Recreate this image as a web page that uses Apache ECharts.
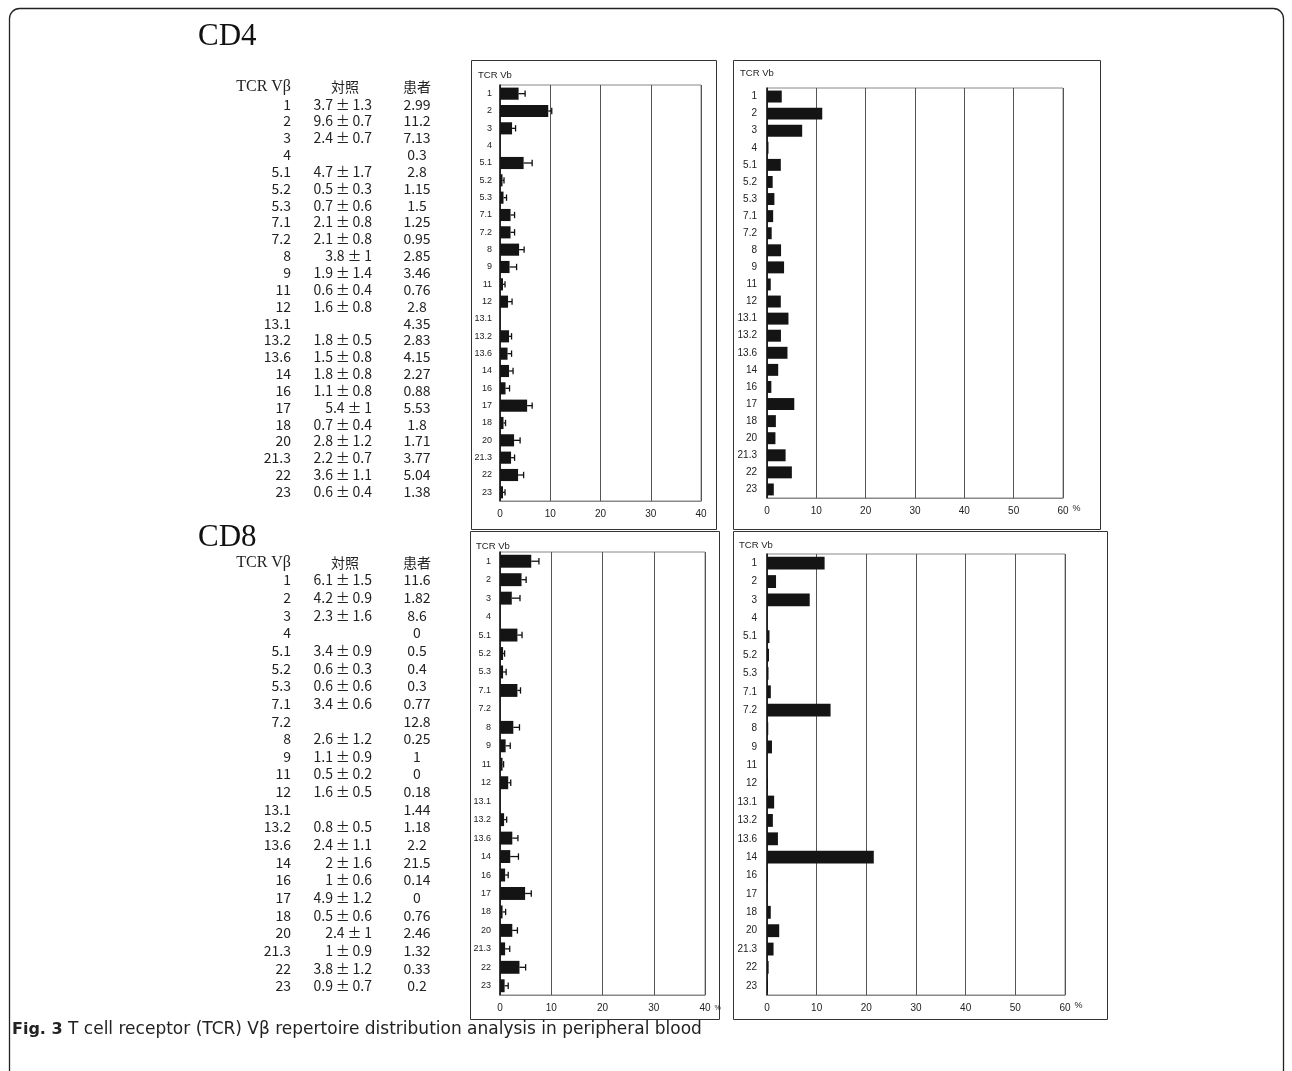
<!DOCTYPE html>
<html><head><meta charset="utf-8">
<script src="https://cdn.jsdelivr.net/npm/echarts@6/dist/echarts.min.js"></script>
<style>html,body{margin:0;padding:0;background:#fff}#c{width:1292px;height:1071px}</style>
</head><body><div id="c"></div>
<script>
// ---- data ----
const categories = ['1','2','3','4','5.1','5.2','5.3','7.1','7.2','8','9','11','12','13.1','13.2','13.6','14','16','17','18','20','21.3','22','23'];
const cd4ControlMean = [3.7,9.6,2.4,null,4.7,0.5,0.7,2.1,2.1,3.8,1.9,0.6,1.6,null,1.8,1.5,1.8,1.1,5.4,0.7,2.8,2.2,3.6,0.6];
const cd4ControlSD   = [1.3,0.7,0.7,null,1.7,0.3,0.6,0.8,0.8,1,1.4,0.4,0.8,null,0.5,0.8,0.8,0.8,1,0.4,1.2,0.7,1.1,0.4];
const cd4Patient     = [2.99,11.2,7.13,0.3,2.8,1.15,1.5,1.25,0.95,2.85,3.46,0.76,2.8,4.35,2.83,4.15,2.27,0.88,5.53,1.8,1.71,3.77,5.04,1.38];
const cd8ControlMean = [6.1,4.2,2.3,null,3.4,0.6,0.6,3.4,null,2.6,1.1,0.5,1.6,null,0.8,2.4,2,1,4.9,0.5,2.4,1,3.8,0.9];
const cd8ControlSD   = [1.5,0.9,1.6,null,0.9,0.3,0.6,0.6,null,1.2,0.9,0.2,0.5,null,0.5,1.1,1.6,0.6,1.2,0.6,1,0.9,1.2,0.7];
const cd8Patient     = [11.6,1.82,8.6,0,0.5,0.4,0.3,0.77,12.8,0.25,1,0,0.18,1.44,1.18,2.2,21.5,0.14,0,0.76,2.46,1.32,0.33,0.2];
const controlTicksMax = 40;
const patientTicksMax = 60;
const headerLabels = ['TCR V\u03b2','対照','患者'];
const panelTitles = ['CD4','CD8'];
const chartTitle = 'TCR Vb';
const captionBold = 'Fig. 3';
const captionText = ' T cell receptor (TCR) V\u03b2 repertoire distribution analysis in peripheral blood';

// ---- layout ----
const grids = [
  {left:500, top:85,  width:201, height:416},
  {left:767, top:88,  width:296, height:410},
  {left:500, top:552, width:205, height:443},
  {left:767, top:554, width:298, height:441}
];
const boxes = [
  {x:471, y:60,  w:245, h:469},
  {x:733, y:60,  w:367, h:469},
  {x:470, y:531, w:249, h:488},
  {x:733, y:531, w:374, h:488}
];
const titlePos = [[478,75],[740,73],[476,546],[739,545]];
const labelFont = 'Liberation Sans';

const chart = echarts.init(document.getElementById('c'));

function fmtCtrl(m, s){ return m==null ? '' : (m + '\u2009±\u2009' + s); }
function fmtNum(v){ return v==null ? '' : String(v); }

const graphic = [];
graphic.push({type:'rect', shape:{x:9.5,y:8.5,width:1274,height:1100,r:10}, style:{fill:'none',stroke:'#222',lineWidth:1.3}, silent:true});
boxes.forEach(b=>graphic.push({type:'rect', shape:{x:b.x+0.5,y:b.y+0.5,width:b.w,height:b.h}, style:{fill:'none',stroke:'#333',lineWidth:1}, silent:true}));
titlePos.forEach(p=>graphic.push({type:'text', x:p[0], y:p[1], style:{text:chartTitle, font:'9.5px '+labelFont, fill:'#222', textVerticalAlign:'middle'}}));

const tables = [
  {title:panelTitles[0], titleY:37, headerY:87, row0:104.3, step:16.84, mean:cd4ControlMean, sd:cd4ControlSD, pat:cd4Patient},
  {title:panelTitles[1], titleY:538, headerY:563, row0:580, step:17.65, mean:cd8ControlMean, sd:cd8ControlSD, pat:cd8Patient}
];
const colRight = 291, ctrlRight = 372, patCenter = 417, ctrlCenter = 345;
const tFont = '14px "Noto Sans CJK JP"';
tables.forEach(t=>{
  graphic.push({type:'text', x:198, y:t.titleY, style:{text:t.title, font:'31px "Liberation Serif"', fill:'#111', textVerticalAlign:'middle'}});
  graphic.push({type:'text', x:colRight, y:t.headerY, style:{text:headerLabels[0], font:'16px "Liberation Serif"', fill:'#222', textAlign:'right', textVerticalAlign:'middle'}});
  graphic.push({type:'text', x:ctrlCenter, y:t.headerY, style:{text:headerLabels[1], font:tFont, fill:'#222', textAlign:'center', textVerticalAlign:'middle'}});
  graphic.push({type:'text', x:patCenter, y:t.headerY, style:{text:headerLabels[2], font:tFont, fill:'#222', textAlign:'center', textVerticalAlign:'middle'}});
  categories.forEach((c,i)=>{
    const y = t.row0 + i*t.step;
    graphic.push({type:'text', x:colRight, y:y, style:{text:c, font:tFont, fill:'#222', textAlign:'right', textVerticalAlign:'middle'}});
    graphic.push({type:'text', x:ctrlRight, y:y, style:{text:fmtCtrl(t.mean[i],t.sd[i]), font:tFont, fill:'#222', textAlign:'right', textVerticalAlign:'middle'}});
    graphic.push({type:'text', x:patCenter, y:y, style:{text:fmtNum(t.pat[i]), font:tFont, fill:'#222', textAlign:'center', textVerticalAlign:'middle'}});
  });
});
graphic.push({type:'text', x:12, y:1030, style:{
  text:'{b|'+captionBold+'}{n|'+captionText+'}',
  rich:{b:{fontSize:16, fontWeight:'bold', fontFamily:'DejaVu Sans', fill:'#222'},
        n:{fontSize:17, fontWeight:'normal', fontFamily:'DejaVu Sans', fill:'#222'}},
  textVerticalAlign:'middle'}});

function xAx(gi, max, nameTxt, fs){
  return {gridIndex:gi, type:'value', min:0, max:max, interval:10,
    axisLine:{show:true, lineStyle:{color:'#888', width:1}}, axisTick:{show:false},
    axisLabel:{fontSize:10, color:'#222', fontFamily:labelFont, margin:8},
    splitLine:{show:true, lineStyle:{color:'#555', width:1}},
    name:nameTxt, nameLocation:'end', nameGap: nameTxt ? 4 : 0,
    nameTextStyle:{fontSize:fs, color:'#222', fontFamily:labelFont, verticalAlign:'top', padding:[fs<9?10:6,0,0,0]}};
}
function yAx(gi, fs, margin){
  return {gridIndex:gi, type:'category', data:categories, inverse:true,
    axisLine:{show:true, lineStyle:{color:'#111', width:1.5}}, axisTick:{show:false},
    axisLabel:{fontSize:fs, color:'#222', fontFamily:labelFont, margin:margin, interval:0},
    splitLine:{show:false}};
}
function errData(mean, sd){
  const out=[];
  mean.forEach((m,i)=>{ if(m!=null) out.push([i, m, sd[i]]); });
  return out;
}
function errSeries(xi, mean, sd){
  return {type:'custom', xAxisIndex:xi, yAxisIndex:xi, data:errData(mean, sd), encode:{x:1, y:0}, z:3,
    renderItem:function(params, api){
      const idx = api.value(0), m = api.value(1), s = api.value(2);
      const p0 = api.coord([m, idx]), p1 = api.coord([m+s, idx]);
      const h = 3.2;
      return {type:'group', children:[
        {type:'line', shape:{x1:p0[0], y1:p0[1], x2:p1[0], y2:p1[1]}, style:{stroke:'#111', lineWidth:1.3}},
        {type:'line', shape:{x1:p1[0], y1:p1[1]-h, x2:p1[0], y2:p1[1]+h}, style:{stroke:'#111', lineWidth:1.3}}
      ]};
    }};
}
function barSeries(xi, data){
  return {type:'bar', xAxisIndex:xi, yAxisIndex:xi, data:data, barCategoryGap:'30%',
    itemStyle:{color:'#141414'}, emphasis:{disabled:true}, animation:false};
}

const option = {
  animation:false,
  grid: grids.map(g=>Object.assign({show:true, borderColor:'#888', borderWidth:1, containLabel:false}, g)),
  xAxis:[xAx(0,controlTicksMax,'',9), xAx(1,patientTicksMax,'%',9), xAx(2,controlTicksMax,'%',7), xAx(3,patientTicksMax,'%',9)],
  yAxis:[yAx(0,9,8), yAx(1,10,10), yAx(2,9,9), yAx(3,10,10)],
  series:[
    barSeries(0, cd4ControlMean), errSeries(0, cd4ControlMean, cd4ControlSD),
    barSeries(1, cd4Patient),
    barSeries(2, cd8ControlMean), errSeries(2, cd8ControlMean, cd8ControlSD),
    barSeries(3, cd8Patient)
  ],
  graphic: graphic
};
chart.setOption(option);
</script></body></html>
